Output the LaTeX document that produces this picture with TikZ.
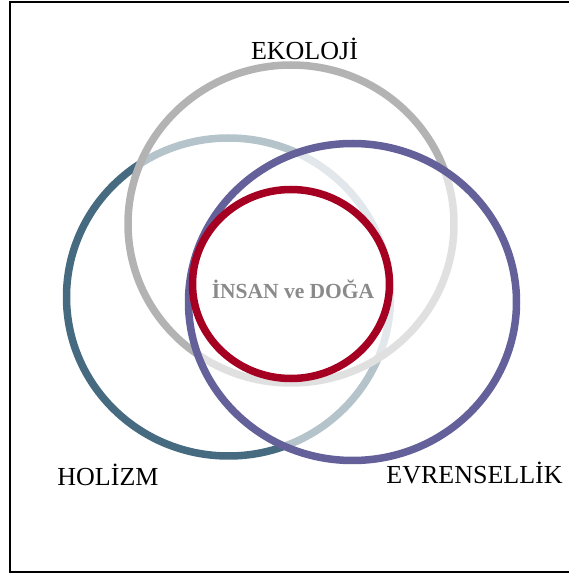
\documentclass[tikz,border=0pt]{standalone}
\usepackage{fontspec}
\setmainfont{Liberation Serif}
\definecolor{ekogray}{HTML}{B3B3B3}
\definecolor{holteal}{HTML}{466A7F}
\definecolor{evrpurple}{HTML}{64619A}
\definecolor{insred}{HTML}{A50021}
\definecolor{insgray}{HTML}{8A8A8A}
\tikzset{
  ring/.style={line width=7.5pt},
  veil/.style={ring, fill=white, fill opacity=0.6},
  lbl/.style={font=\fontsize{26}{30}\selectfont, inner sep=0pt, anchor=base},
}
\begin{document}
\begin{tikzpicture}[x=1pt,y=1pt]
\useasboundingbox (0,0) rectangle (569,574);
\begin{scope}
\clip (0,0) rectangle (569,574);
\draw[line width=2pt] (9.5,2) rectangle (575,571.5);
\end{scope}
% HOLIZM circle
\draw[ring, draw=holteal] (228.5,277) ellipse [x radius=162, y radius=159];
% EKOLOJI circle
\draw[veil, draw=ekogray] (291,350) ellipse [x radius=163, y radius=159];
% EVRENSELLIK circle
\draw[veil, draw=evrpurple] (352.5,272) ellipse [x radius=164, y radius=158.5];
% INSAN ve DOGA circle
\draw[ring, draw=insred] (291,290) ellipse [x radius=98.5, y radius=94.5];
\node[lbl] (eko) at (304.5,514) {EKOLOJİ};
\node[lbl] (hol) at (108,88) {HOLİZM};
\node[lbl] (evr) at (474.5,90) {EVRENSELLİK};
\node[inner sep=0pt, anchor=base, text=insgray, font=\fontsize{21.5}{25}\selectfont\bfseries] (ins) at (293,275) {İNSAN ve DOĞA};
\end{tikzpicture}
\end{document}
